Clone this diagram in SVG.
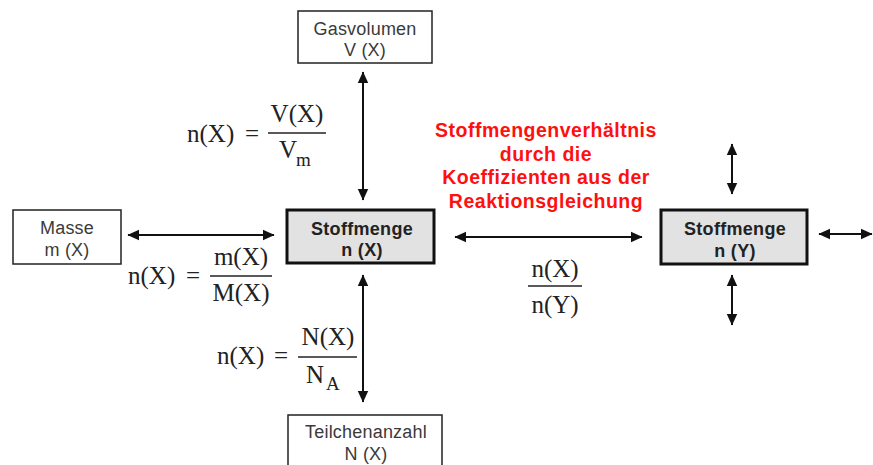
<svg xmlns="http://www.w3.org/2000/svg" width="873" height="465" viewBox="0 0 873 465">
<defs>
<marker id="ah" markerUnits="userSpaceOnUse" markerWidth="12" markerHeight="12" viewBox="0 0 10 10" refX="9.5" refY="5" orient="auto-start-reverse">
<path d="M0,0.5 L10,5 L0,9.5 z" fill="#111"/>
</marker>
</defs>
<style>
.box{fill:#fff;stroke:#222;stroke-width:1.5}
.main{fill:#e2e2e2;stroke:#111;stroke-width:3}
.lbl{font-family:"Liberation Sans",Arial,sans-serif;font-size:18px;fill:#3a3a3a;text-anchor:middle;letter-spacing:0.2px}
.blbl{font-family:"Liberation Sans",Arial,sans-serif;font-size:18px;font-weight:bold;fill:#222;text-anchor:middle;letter-spacing:0.3px}
.red{font-family:"Liberation Sans",Arial,sans-serif;font-size:19.5px;font-weight:bold;fill:#ff1010;text-anchor:middle;letter-spacing:0.5px}
.f{font-family:"Liberation Serif","Times New Roman",serif;font-size:25px;fill:#222}
.fc{font-family:"Liberation Serif","Times New Roman",serif;font-size:25px;fill:#222;text-anchor:middle}
.sub{font-family:"Liberation Serif","Times New Roman",serif;font-size:19px;fill:#222}
.fl{stroke:#222;stroke-width:1.5}
.arr{stroke:#111;stroke-width:2;fill:none;marker-start:url(#ah);marker-end:url(#ah)}
</style>
<g id="gasvolumen">
<rect class="box" x="298" y="11" width="134" height="52"/>
<text class="lbl" x="365" y="35">Gasvolumen</text>
<text class="lbl" x="365" y="56">V (X)</text>
</g>
<g id="masse">
<rect class="box" x="13" y="210" width="108" height="54"/>
<text class="lbl" x="67" y="234">Masse</text>
<text class="lbl" x="67" y="256">m (X)</text>
</g>
<g id="stoffmenge-x">
<rect class="main" x="287" y="210" width="147" height="53"/>
<text class="blbl" x="362" y="235">Stoffmenge</text>
<text class="blbl" x="362" y="256">n (X)</text>
</g>
<g id="stoffmenge-y">
<rect class="main" x="661" y="210" width="146" height="54"/>
<text class="blbl" x="735" y="235">Stoffmenge</text>
<text class="blbl" x="735" y="257">n (Y)</text>
</g>
<g id="teilchenanzahl">
<rect class="box" x="288" y="415" width="154" height="60"/>
<text class="lbl" x="366" y="438">Teilchenanzahl</text>
<text class="lbl" x="366" y="460">N (X)</text>
</g>
<g id="verhaeltnis-text">
<text class="red" x="546" y="137">Stoffmengenverhältnis</text>
<text class="red" x="546" y="161">durch die</text>
<text class="red" x="546" y="184">Koeffizienten aus der</text>
<text class="red" x="546" y="208">Reaktionsgleichung</text>
</g>
<g id="formel-volumen">
<text class="f" x="187" y="142">n(X)</text>
<text class="f" x="245" y="142">=</text>
<text class="fc" x="297" y="122">V(X)</text>
<line class="fl" x1="268" y1="133" x2="326" y2="133"/>
<text class="f" x="279" y="158">V</text>
<text class="sub" x="296" y="166">m</text>
</g>
<g id="formel-masse">
<text class="f" x="128" y="284">n(X)</text>
<text class="f" x="186" y="284">=</text>
<text class="fc" x="241" y="265">m(X)</text>
<line class="fl" x1="210" y1="276" x2="272" y2="276"/>
<text class="fc" x="241" y="301">M(X)</text>
</g>
<g id="formel-teilchen">
<text class="f" x="217" y="364">n(X)</text>
<text class="f" x="274" y="364">=</text>
<text class="fc" x="328" y="345">N(X)</text>
<line class="fl" x1="298" y1="357" x2="357" y2="357"/>
<text class="f" x="306" y="383">N</text>
<text class="sub" x="326" y="390">A</text>
</g>
<g id="formel-verhaeltnis">
<text class="fc" x="555" y="277">n(X)</text>
<line class="fl" x1="528" y1="286" x2="582" y2="286"/>
<text class="fc" x="555" y="313">n(Y)</text>
</g>
<g id="connectors">
<line class="arr" x1="363" y1="72" x2="363" y2="200"/>
<line class="arr" x1="128" y1="235" x2="274" y2="235"/>
<line class="arr" x1="363" y1="275" x2="363" y2="402"/>
<line class="arr" x1="455" y1="237" x2="642" y2="237"/>
<line class="arr" x1="732" y1="144" x2="732" y2="194"/>
<line class="arr" x1="732" y1="275" x2="732" y2="325"/>
<line class="arr" x1="819" y1="234" x2="872" y2="234"/>
</g>
</svg>
